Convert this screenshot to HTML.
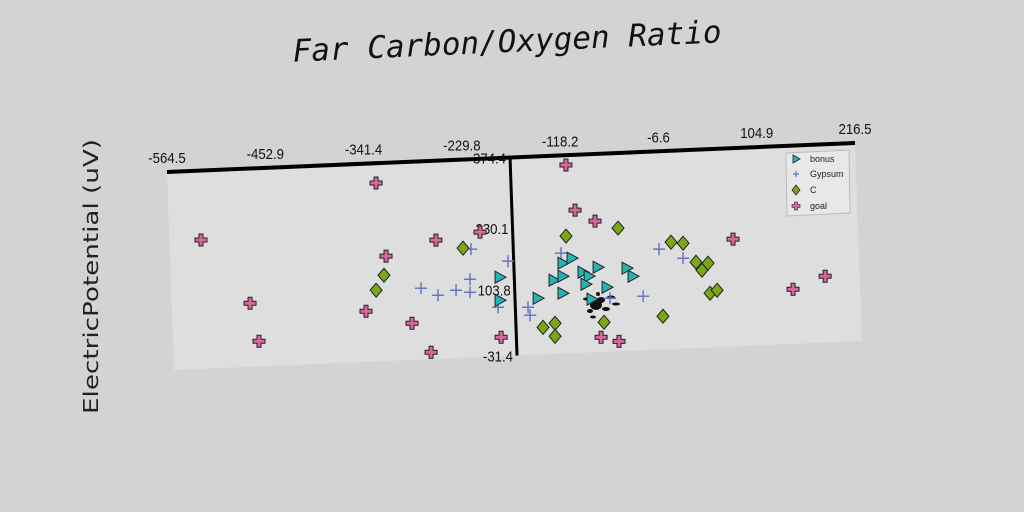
<!DOCTYPE html>
<html><head><meta charset="utf-8"><style>
html,body{margin:0;padding:0;background:#d3d3d3;}
svg{display:block;}
text{font-family:"Liberation Sans",sans-serif;}
</style></head><body>
<svg id="chart" width="1024" height="512" viewBox="0 0 1024 512" xmlns="http://www.w3.org/2000/svg">
<rect width="1024" height="512" fill="#d3d3d3"/>
<text x="507" y="52" text-anchor="middle" transform="rotate(-2.6 507 40)" style="font-family:'DejaVu Sans Mono',monospace;font-style:oblique;font-size:31px" fill="#111">Far Carbon/Oxygen Ratio</text>
<text x="-137" y="0" textLength="275" lengthAdjust="spacingAndGlyphs" transform="translate(98 277) rotate(-90)" style="font-family:'DejaVu Sans',sans-serif;font-size:20px" fill="#222">ElectricPotential (uV)</text>
<g id="plot"></g>
</svg>
<script>
const xTicks = [-564.5, -452.9, -341.4, -229.8, -118.2, -6.6, 104.9, 216.5];
const yTicks = [374.4, 230.1, 103.8, -31.4];
const goalX = [-528.7,-475.6,-467.0,-328.0,-319.6,-344.5,-292.8,-272.4,-262.4,-212.1,-192.4,-112.0,-103.5,-81.3,-79.1,-58.9,74.4,140.4,177.3];
const goalY = [232.2,98.7,20.0,333.8,183.4,72.3,43.8,-17.3,211.7,224.4,7.3,354.3,261.3,236.9,-1.3,-11.1,188.1,80.5,104.3];
const cX = [-232.0,-322.7,-332.2,-114.8,-55.5,4.0,17.6,31.5,38.0,45.1,46.2,54.3,-8.1,-144.5,-130.7,-131.2,-75.1];
const cY = [193.0,144.4,114.5,208.8,220.7,187.3,184.2,144.2,127.2,141.2,79.5,85.0,36.4,24.1,31.3,4.7,29.3];
const bonusX = [-191.2,-192.1,-148.9,-130.1,-119.8,-119.3,-108.8,-120.5,-97.0,-90.2,-79.7,-94.1,-70.3,-87.8,-46.9,-40.4];
const bonusY = [130.3,83.2,84.0,119.6,127.0,153.7,163.1,92.2,133.4,124.8,142.4,108.6,100.6,77.4,137.9,120.9];
const gypX = [-281.2,-262.2,-241.6,-225.3,-225.8,-223.0,-181.5,-194.6,-160.7,-158.7,-121.1,-67.4,-29.8,-9.9,17.0];
const gypY = [114.7,98.9,107.5,128.9,102.2,190.3,162.5,69.0,66.6,50.0,174.4,77.8,79.1,174.0,153.5];

const NS='http://www.w3.org/2000/svg';
const g=document.getElementById('plot');
const W=688,H=198;
const xMin=-564.5,xMax=216.5,yMin=-31.4,yMax=374.4;
function lx(v){return (v-xMin)/(xMax-xMin)*W;}
function ly(v){return (yMax-v)/(yMax-yMin)*H;}
const A=1,B=-29/688,C=7/198,D=1,E=167,F=172;
function sx(px,py){return A*px+C*py+E;}
function sy(px,py){return B*px+D*py+F;}
function X(x,y){return sx(lx(x),ly(y));}
function Y(x,y){return sy(lx(x),ly(y));}
function mk(tag,attrs){const e=document.createElementNS(NS,tag);for(const k in attrs)e.setAttribute(k,attrs[k]);g.appendChild(e);return e;}

const bg=mk('polygon',{points:[[0,0],[W,0],[W,H],[0,H]].map(p=>sx(p[0],p[1])+','+sy(p[0],p[1])).join(' '),fill:'#dedede'});



const blob=[[596,305,6,5],[601,300,4,3],[590,311,3,2],[606,309,4,2],[586,299,3,1.5],[611,297,4,1.5],[593,317,3,1.5],[616,304,4,1.5],[598,294,2,2]];
blob.forEach(b=>{const e=mk('ellipse',{cx:b[0],cy:b[1],rx:b[2],ry:b[3],fill:'#111'});

});

const ta=mk('line',{x1:sx(0,0),y1:sy(0,0),x2:sx(W,0),y2:sy(W,0),stroke:'#000','stroke-width':4});


xTicks.forEach(t=>{const px=lx(t);const tx=sx(px,0),ty=sy(px,0);
const e=mk('text',{x:tx,y:ty-9,'text-anchor':'middle','font-size':'15',fill:'#111',transform:`translate(${tx} 0) scale(0.88 1) translate(${-tx} 0)`});
e.textContent=t.toFixed(1);

});

const vx=lx(-175.1);
const va=mk('line',{x1:sx(vx,0),y1:sy(vx,0),x2:sx(vx,H),y2:sy(vx,H),stroke:'#000','stroke-width':3});


yTicks.forEach(t=>{const py=ly(t);const tx=sx(vx,py)-4,ty=sy(vx,py)+6;
const e=mk('text',{x:tx,y:ty,'text-anchor':'end','font-size':'15',fill:'#111',transform:`translate(${tx} 0) scale(0.88 1) translate(${-tx} 0)`});
e.textContent=t.toFixed(1);

});

function plusFat(cx,cy){return mk('path',{d:`M${cx-2},${cy-6}h4v4h4v4h-4v4h-4v-4h-4v-4h4z`,fill:'#d9669e',stroke:'#222','stroke-width':1});}
function diamond(cx,cy){return mk('path',{d:`M${cx},${cy-7}L${cx+6},${cy}L${cx},${cy+7}L${cx-6},${cy}Z`,fill:'#7ba615',stroke:'#222','stroke-width':1});}
function tri(cx,cy){return mk('path',{d:`M${cx-5},${cy-6}L${cx+6},${cy}L${cx-5},${cy+6}Z`,fill:'#25b3b8',stroke:'#222','stroke-width':1});}
function plusThin(cx,cy){return mk('path',{d:`M${cx-6},${cy}h12M${cx},${cy-6}v12`,stroke:'#6b74c0','stroke-width':1.5,fill:'none'});}

gypX.forEach((v,i)=>{const e=plusThin(X(v,gypY[i]),Y(v,gypY[i]));

});
bonusX.forEach((v,i)=>{const e=tri(X(v,bonusY[i]),Y(v,bonusY[i]));

});
cX.forEach((v,i)=>{const e=diamond(X(v,cY[i]),Y(v,cY[i]));

});
goalX.forEach((v,i)=>{const e=plusFat(X(v,goalY[i]),Y(v,goalY[i]));

});

const lg=mk('polygon',{points:'786,153 849,150 850,213 787,216',fill:'#e8e8e8',stroke:'#bbb','stroke-width':1});


const names=['bonus','Gypsum','C','goal'];
const fns=[(x,y)=>mk('path',{d:`M${x-3},${y-4}L${x+4},${y}L${x-3},${y+4}Z`,fill:'#25b3b8',stroke:'#222','stroke-width':0.8}),
(x,y)=>mk('path',{d:`M${x-3},${y}h6M${x},${y-3}v6`,stroke:'#6b74c0','stroke-width':1.2}),
(x,y)=>mk('path',{d:`M${x},${y-5}L${x+4},${y}L${x},${y+5}L${x-4},${y}Z`,fill:'#7ba615',stroke:'#222','stroke-width':0.8}),
(x,y)=>mk('path',{d:`M${x-1.5},${y-4}h3v2.5h2.5v3h-2.5v2.5h-3v-2.5h-2.5v-3h2.5z`,fill:'#d9669e',stroke:'#222','stroke-width':0.6})];
const legY=[159,174,190,206];
names.forEach((n,i)=>{const yy=legY[i];
const m=fns[i](796,yy);


const t=mk('text',{x:810,y:yy+3,'font-size':'9',fill:'#222'});
t.textContent=n;

});
</script>
</body></html>
